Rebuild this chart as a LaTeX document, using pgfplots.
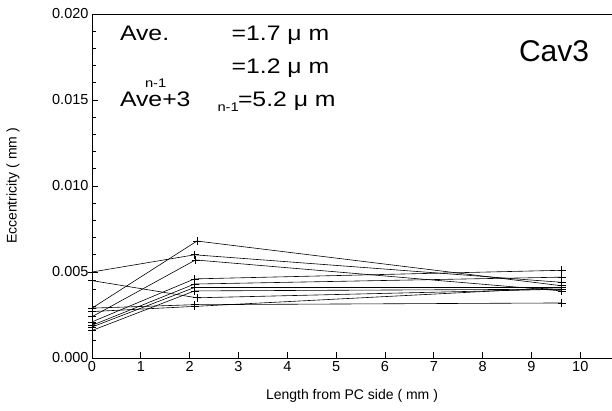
\documentclass[border=0pt]{standalone}
\usepackage{fontspec}
\setmainfont{Liberation Sans}
\usepackage{pgfplots}
\pgfplotsset{compat=1.18}
\newcommand{\wx}[1]{\scalebox{1.18}[1]{#1}}
\pgfplotsset{ser/.style={black, solid, line width=0.6pt, mark=+, mark size=4pt, mark options={solid, black, line width=0.75pt}}}
\begin{document}
\begin{tikzpicture}[x=1pt,y=1pt]
\begin{axis}[
  at={(92pt,52pt)}, anchor=south west,
  scale only axis, width=520pt, height=344pt,
  xmin=0, xmax=10.65, ymin=0, ymax=0.020,
  axis y line*=left,
  axis line style={line width=0.9pt},
  xtick={0,1,...,10}, ytick={0,0.005,0.010,0.015,0.020},
  minor y tick num=4,
  xtick pos=left, ytick pos=left,
  tick align=inside,
  major tick length=6pt, minor tick length=3.5pt,
  every tick/.style={black, line width=0.8pt},
  scaled y ticks=false,
  clip=false,
  yticklabel style={/pgf/number format/.cd, fixed, fixed zerofill, precision=3},
  /pgf/number format/assume math mode=true,
  tick label style={font=\fontsize{14.5}{16}\selectfont},
  xlabel={Length from PC side ( mm )},
  ylabel={Eccentricity ( mm )},
  label style={font=\fontsize{14}{16}\selectfont},
  xlabel style={at={(axis description cs:0.5,-0.122)}, anchor=base},
  ylabel style={at={(axis description cs:-0.152,0.5)}, anchor=center},
]
\addplot[ser] coordinates {(0,0.0050) (2.10,0.0060) (9.62,0.0044)};
\addplot[ser] coordinates {(0,0.0045) (2.15,0.0035) (9.62,0.0040)};
\addplot[ser] coordinates {(0,0.0029) (2.15,0.0068) (9.62,0.0042)};
\addplot[ser] coordinates {(0,0.0029) (2.10,0.0031) (9.62,0.0032)};
\addplot[ser] coordinates {(0,0.0027) (2.10,0.0030) (9.62,0.0041)};
\addplot[ser] coordinates {(0,0.0024) (2.12,0.0057) (9.62,0.0039)};
\addplot[ser] coordinates {(0,0.0021) (2.10,0.0046) (9.62,0.0051)};
\addplot[ser] coordinates {(0,0.0019) (2.10,0.0043) (9.62,0.0047)};
\addplot[ser] coordinates {(0,0.0018) (2.10,0.0041) (9.62,0.0041)};
\addplot[ser] coordinates {(0,0.0016) (2.10,0.0039) (9.62,0.0040)};
\end{axis}
\begin{scope}[every node/.style={inner sep=0pt, outer sep=0pt}]
\node[anchor=base west, font=\fontsize{21}{24}\selectfont] at (120,369) {\wx{Ave.}};
\node[anchor=base west, font=\fontsize{21}{24}\selectfont] at (231.7,369) {\wx{=1.7 μ m}};
\node[anchor=base west, font=\fontsize{21}{24}\selectfont] at (231.7,336.7) {\wx{=1.2 μ m}};
\node[anchor=base west, font=\fontsize{12.5}{15}\selectfont] at (145,322) {\wx{n-1}};
\node[anchor=base west, font=\fontsize{21}{24}\selectfont] at (120,303.3) {\wx{Ave+3}};
\node[anchor=base west, font=\fontsize{12.5}{15}\selectfont] at (217.5,298.3) {\wx{n-1}};
\node[anchor=base west, font=\fontsize{21}{24}\selectfont] at (238,303.3) {\wx{=5.2 μ m}};
\node[anchor=base west, font=\fontsize{30}{34}\selectfont] at (519,348) {Cav3};
\end{scope}
\pgfresetboundingbox
\useasboundingbox (0,0) rectangle (612,410);
\end{tikzpicture}
\end{document}
